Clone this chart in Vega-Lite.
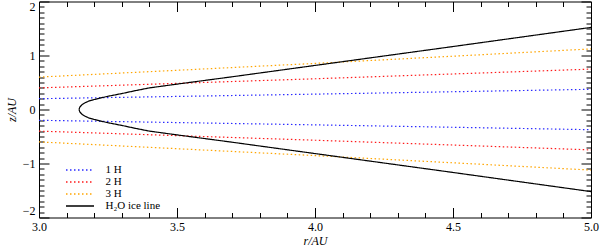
{
  "$schema": "https://vega.github.io/schema/vega-lite/v6.json",
  "width": 552,
  "height": 216,
  "autosize": "none",
  "padding": {"left": 39, "top": 1.5, "right": 9, "bottom": 32.5},
  "background": "white",
  "config": {
    "view": {"stroke": "black", "strokeWidth": 1},
    "font": "Liberation Serif",
    "axis": {"labelFont": "Liberation Serif", "titleFont": "Liberation Serif", "labelColor": "black", "titleColor": "black", "domain": false, "grid": false, "labelOverlap": false, "labelFlush": false, "labelFontSize": 12, "titleFontSize": 12, "titleFontStyle": "italic", "titleFontWeight": "normal", "tickColor": "black", "tickWidth": 1}
  },
  "datasets": {
    "hl": [
      {"series": "1 H", "branch": "up", "r": 3.0, "z": 0.2},
      {"series": "1 H", "branch": "up", "r": 3.5, "z": 0.242},
      {"series": "1 H", "branch": "up", "r": 4.0, "z": 0.2845},
      {"series": "1 H", "branch": "up", "r": 4.5, "z": 0.329},
      {"series": "1 H", "branch": "up", "r": 5.0, "z": 0.374},
      {"series": "1 H", "branch": "down", "r": 3.0, "z": -0.2},
      {"series": "1 H", "branch": "down", "r": 3.5, "z": -0.242},
      {"series": "1 H", "branch": "down", "r": 4.0, "z": -0.2845},
      {"series": "1 H", "branch": "down", "r": 4.5, "z": -0.329},
      {"series": "1 H", "branch": "down", "r": 5.0, "z": -0.374},
      {"series": "2 H", "branch": "up", "r": 3.0, "z": 0.4},
      {"series": "2 H", "branch": "up", "r": 3.5, "z": 0.484},
      {"series": "2 H", "branch": "up", "r": 4.0, "z": 0.569},
      {"series": "2 H", "branch": "up", "r": 4.5, "z": 0.658},
      {"series": "2 H", "branch": "up", "r": 5.0, "z": 0.748},
      {"series": "2 H", "branch": "down", "r": 3.0, "z": -0.4},
      {"series": "2 H", "branch": "down", "r": 3.5, "z": -0.484},
      {"series": "2 H", "branch": "down", "r": 4.0, "z": -0.569},
      {"series": "2 H", "branch": "down", "r": 4.5, "z": -0.658},
      {"series": "2 H", "branch": "down", "r": 5.0, "z": -0.748},
      {"series": "3 H", "branch": "up", "r": 3.0, "z": 0.6},
      {"series": "3 H", "branch": "up", "r": 3.5, "z": 0.726},
      {"series": "3 H", "branch": "up", "r": 4.0, "z": 0.8535},
      {"series": "3 H", "branch": "up", "r": 4.5, "z": 0.987},
      {"series": "3 H", "branch": "up", "r": 5.0, "z": 1.122},
      {"series": "3 H", "branch": "down", "r": 3.0, "z": -0.6},
      {"series": "3 H", "branch": "down", "r": 3.5, "z": -0.726},
      {"series": "3 H", "branch": "down", "r": 4.0, "z": -0.8535},
      {"series": "3 H", "branch": "down", "r": 4.5, "z": -0.987},
      {"series": "3 H", "branch": "down", "r": 5.0, "z": -1.122}
    ],
    "ice": [
      {"series": "H₂O ice line", "branch": "up", "r": 3.145, "z": 0},
      {"series": "H₂O ice line", "branch": "up", "r": 3.148, "z": 0.045},
      {"series": "H₂O ice line", "branch": "up", "r": 3.155, "z": 0.085},
      {"series": "H₂O ice line", "branch": "up", "r": 3.165, "z": 0.12},
      {"series": "H₂O ice line", "branch": "up", "r": 3.18, "z": 0.155},
      {"series": "H₂O ice line", "branch": "up", "r": 3.2, "z": 0.185},
      {"series": "H₂O ice line", "branch": "up", "r": 3.22, "z": 0.21},
      {"series": "H₂O ice line", "branch": "up", "r": 3.25, "z": 0.245},
      {"series": "H₂O ice line", "branch": "up", "r": 3.3, "z": 0.295},
      {"series": "H₂O ice line", "branch": "up", "r": 3.35, "z": 0.35},
      {"series": "H₂O ice line", "branch": "up", "r": 3.4, "z": 0.4},
      {"series": "H₂O ice line", "branch": "up", "r": 3.5, "z": 0.47},
      {"series": "H₂O ice line", "branch": "up", "r": 3.7, "z": 0.606},
      {"series": "H₂O ice line", "branch": "up", "r": 4.0, "z": 0.816},
      {"series": "H₂O ice line", "branch": "up", "r": 4.5, "z": 1.166},
      {"series": "H₂O ice line", "branch": "up", "r": 5.0, "z": 1.52},
      {"series": "H₂O ice line", "branch": "down", "r": 3.145, "z": 0},
      {"series": "H₂O ice line", "branch": "down", "r": 3.148, "z": -0.045},
      {"series": "H₂O ice line", "branch": "down", "r": 3.155, "z": -0.085},
      {"series": "H₂O ice line", "branch": "down", "r": 3.165, "z": -0.12},
      {"series": "H₂O ice line", "branch": "down", "r": 3.18, "z": -0.155},
      {"series": "H₂O ice line", "branch": "down", "r": 3.2, "z": -0.185},
      {"series": "H₂O ice line", "branch": "down", "r": 3.22, "z": -0.21},
      {"series": "H₂O ice line", "branch": "down", "r": 3.25, "z": -0.245},
      {"series": "H₂O ice line", "branch": "down", "r": 3.3, "z": -0.295},
      {"series": "H₂O ice line", "branch": "down", "r": 3.35, "z": -0.35},
      {"series": "H₂O ice line", "branch": "down", "r": 3.4, "z": -0.4},
      {"series": "H₂O ice line", "branch": "down", "r": 3.5, "z": -0.47},
      {"series": "H₂O ice line", "branch": "down", "r": 3.7, "z": -0.606},
      {"series": "H₂O ice line", "branch": "down", "r": 4.0, "z": -0.816},
      {"series": "H₂O ice line", "branch": "down", "r": 4.5, "z": -1.166},
      {"series": "H₂O ice line", "branch": "down", "r": 5.0, "z": -1.52}
    ]
  },
  "resolve": {"axis": {"x": "independent", "y": "independent"}},
  "layer": [
    {
      "mark": {"type": "rule", "strokeDash": [8, 5], "color": "black", "strokeWidth": 1},
      "encoding": {
        "y": {"datum": 0, "type": "quantitative", "axis": null, "scale": {"domain": [-2, 2], "nice": false, "zero": false}}
      }
    },
    {
      "data": {"name": "hl"},
      "transform": [{"filter": "datum.branch == 'up'"}],
      "mark": {"type": "line", "strokeWidth": 1.2, "clip": true},
      "encoding": {
        "x": {"field": "r", "type": "quantitative", "scale": {"domain": [3, 5], "nice": false, "zero": false},
          "axis": {"orient": "bottom", "title": "r/AU", "titlePadding": 3, "offset": -10, "tickSize": 10, "labelPadding": 4,
            "values": [3.0, 3.5, 4.0, 4.5, 5.0], "format": ".1f"}},
        "y": {"field": "z", "type": "quantitative", "scale": {"domain": [-2, 2], "nice": false, "zero": false},
          "axis": {"orient": "left", "title": "z/AU", "titlePadding": 4, "offset": -10, "tickSize": 10, "labelPadding": 4, "labelFlush": true,
            "values": [-2, -1, 0, 1, 2], "format": "d"}},
        "detail": {"field": "branch"},
        "color": {"field": "series", "type": "nominal",
          "scale": {"domain": ["1 H", "2 H", "3 H", "H₂O ice line"], "range": ["#2a2aff", "#ff1a1a", "#ffa500", "black"]},
          "legend": {"title": null, "orient": "none", "legendX": 35.5, "legendY": 163, "symbolType": "M-4,0H4", "symbolSize": 49, "symbolStrokeWidth": 1.5, "labelFont": "Liberation Serif", "labelFontSize": 11, "labelColor": "black", "labelOffset": 20, "rowPadding": 0, "padding": 0}},
        "strokeDash": {"field": "series", "type": "nominal",
          "scale": {"domain": ["1 H", "2 H", "3 H", "H₂O ice line"], "range": [[1.5, 2.5], [1.5, 2.5], [1.5, 2.5], [1, 0]]},
          "legend": null}
      }
    },
    {
      "data": {"name": "hl"},
      "transform": [{"filter": "datum.branch == 'down'"}],
      "mark": {"type": "line", "strokeWidth": 1.2, "clip": true},
      "encoding": {
        "x": {"field": "r", "type": "quantitative", "scale": {"domain": [3, 5], "nice": false, "zero": false},
          "axis": {"orient": "bottom", "title": null, "labels": false, "offset": -5, "tickSize": 5,
            "values": [3.1,3.2,3.3,3.4,3.6,3.7,3.8,3.9,4.1,4.2,4.3,4.4,4.6,4.7,4.8,4.9]}},
        "y": {"field": "z", "type": "quantitative", "scale": {"domain": [-2, 2], "nice": false, "zero": false},
          "axis": {"orient": "left", "title": null, "labels": false, "offset": -5, "tickSize": 5,
            "values": [-1.9,-1.8,-1.7,-1.6,-1.5,-1.4,-1.3,-1.2,-1.1,-0.9,-0.8,-0.7,-0.6,-0.5,-0.4,-0.3,-0.2,-0.1,0.1,0.2,0.3,0.4,0.5,0.6,0.7,0.8,0.9,1.1,1.2,1.3,1.4,1.5,1.6,1.7,1.8,1.9]}},
        "detail": {"field": "branch"},
        "color": {"field": "series", "type": "nominal"},
        "strokeDash": {"field": "series", "type": "nominal"}
      }
    },
    {
      "data": {"name": "ice"},
      "transform": [{"filter": "datum.branch == 'up'"}],
      "mark": {"type": "line", "strokeWidth": 1.2, "clip": true},
      "encoding": {
        "x": {"field": "r", "type": "quantitative", "scale": {"domain": [3, 5], "nice": false, "zero": false},
          "axis": {"orient": "top", "title": null, "labels": false, "offset": -10, "tickSize": 10,
            "values": [3.0, 3.5, 4.0, 4.5, 5.0]}},
        "y": {"field": "z", "type": "quantitative", "scale": {"domain": [-2, 2], "nice": false, "zero": false},
          "axis": {"orient": "right", "title": null, "labels": false, "offset": -10, "tickSize": 10,
            "values": [-2, -1, 0, 1, 2]}},
        "detail": {"field": "branch"},
        "color": {"field": "series", "type": "nominal"},
        "strokeDash": {"field": "series", "type": "nominal"}
      }
    },
    {
      "data": {"name": "ice"},
      "transform": [{"filter": "datum.branch == 'down'"}],
      "mark": {"type": "line", "strokeWidth": 1.2, "clip": true},
      "encoding": {
        "x": {"field": "r", "type": "quantitative", "scale": {"domain": [3, 5], "nice": false, "zero": false},
          "axis": {"orient": "top", "title": null, "labels": false, "offset": -5, "tickSize": 5,
            "values": [3.1,3.2,3.3,3.4,3.6,3.7,3.8,3.9,4.1,4.2,4.3,4.4,4.6,4.7,4.8,4.9]}},
        "y": {"field": "z", "type": "quantitative", "scale": {"domain": [-2, 2], "nice": false, "zero": false},
          "axis": {"orient": "right", "title": null, "labels": false, "offset": -5, "tickSize": 5,
            "values": [-1.9,-1.8,-1.7,-1.6,-1.5,-1.4,-1.3,-1.2,-1.1,-0.9,-0.8,-0.7,-0.6,-0.5,-0.4,-0.3,-0.2,-0.1,0.1,0.2,0.3,0.4,0.5,0.6,0.7,0.8,0.9,1.1,1.2,1.3,1.4,1.5,1.6,1.7,1.8,1.9]}},
        "detail": {"field": "branch"},
        "color": {"field": "series", "type": "nominal"},
        "strokeDash": {"field": "series", "type": "nominal"}
      }
    }
  ]
}
